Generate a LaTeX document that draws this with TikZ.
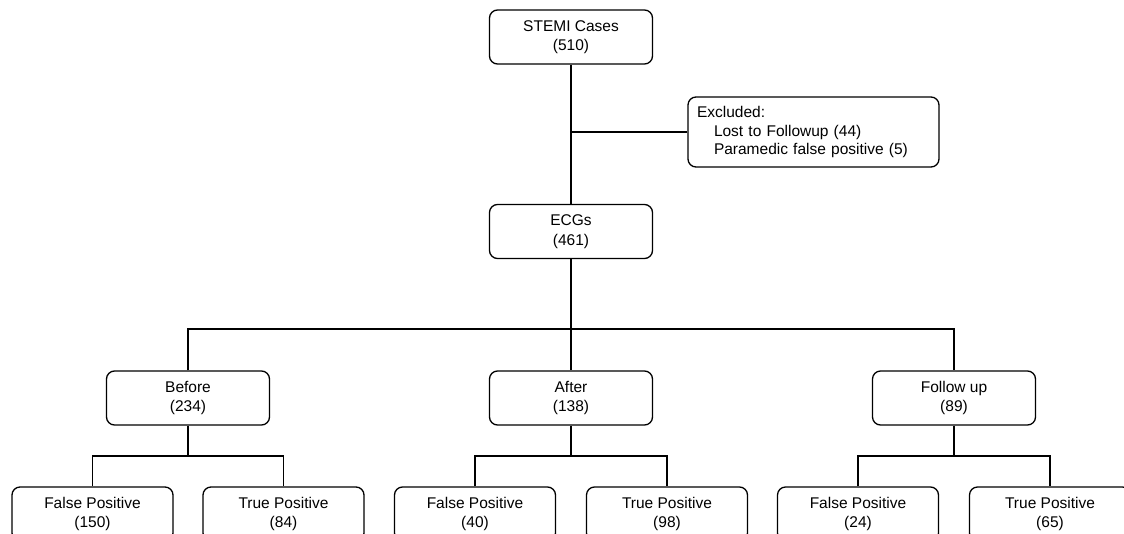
\documentclass[tikz,border=0pt]{standalone}
\usepackage{fontspec}
\setmainfont{Liberation Sans}
\begin{document}
\begin{tikzpicture}[x=1pt,y=-1pt,
  line width=1.3pt,
  box/.style={draw, rounded corners=8pt, minimum width=163pt, minimum height=54pt,
    align=center, inner sep=0pt, font=\fontsize{15.5}{19.5}\selectfont},
  leaf/.style={box, minimum width=161pt},
  conn/.style={draw, line width=1.3pt}]
\useasboundingbox (0,0) rectangle (1124,533);
\clip (0,0) rectangle (1124,533);
\node[box] (stemi) at (571,37) {STEMI Cases\\(510)};
\node[draw, rounded corners=8pt, minimum width=251pt, minimum height=70pt, inner xsep=9pt,
  text width=233pt, align=left, font=\fontsize{15.5}{18.5}\selectfont] (excl) at (813.5,132)
  {Excluded:\\\hspace*{17pt}Lost to Followup (44)\\\hspace*{17pt}Paramedic false positive (5)};
\node[box] (ecg) at (571,231.5) {ECGs\\(461)};
\node[box] (before) at (188,398) {Before\\(234)};
\node[box] (after) at (571,398) {After\\(138)};
\node[box] (fu) at (954,398) {Follow up\\(89)};
\node[leaf] (fp1) at (92.5,514) {False Positive\\(150)};
\node[leaf] (tp1) at (283.5,514) {True Positive\\(84)};
\node[leaf] (fp2) at (475,514) {False Positive\\(40)};
\node[leaf] (tp2) at (667,514) {True Positive\\(98)};
\node[leaf] (fp3) at (858,514) {False Positive\\(24)};
\node[leaf] (tp3) at (1050,514) {True Positive\\(65)};
\coordinate (h1) at (571,329);
\coordinate (hb1) at (188,456);
\coordinate (hb2) at (571,456);
\coordinate (hb3) at (954,456);
\draw[conn] (stemi) -- (ecg);
\draw[conn] (excl.west) -- (excl.west -| stemi);
\draw[conn] (ecg) -- (h1);
\draw[conn] (before.north) |- (h1) -| (fu.north);
\draw[conn] (h1) -- (after.north);
\draw[conn] (before) -- (hb1);
\draw[conn] (fp1.north) |- (hb1) -| (tp1.north);
\draw[conn] (after) -- (hb2);
\draw[conn] (fp2.north) |- (hb2) -| (tp2.north);
\draw[conn] (fu) -- (hb3);
\draw[conn] (fp3.north) |- (hb3) -| (tp3.north);
\end{tikzpicture}
\end{document}
